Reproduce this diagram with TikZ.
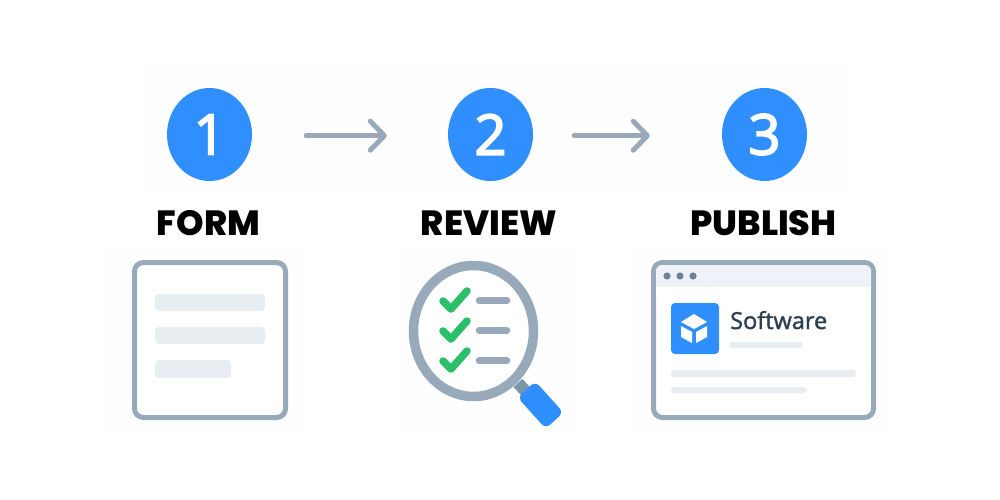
\documentclass[tikz,border=0pt]{standalone}
\usepackage{fontspec}
\setmainfont{Poppins}[BoldFont={Poppins ExtraBold}]
\newfontface\digitfont{Open Sans}[FakeBold=3]
\newfontface\labelfont{Open Sans}[FakeBold=1.5]
\usetikzlibrary{
  shapes.geometric,
  arrows.meta
}
\definecolor{stepblue}{HTML}{2F8FFF}
\definecolor{slate}{HTML}{98A9BA}
\definecolor{pale}{HTML}{E8EDF2}
\definecolor{haze}{HTML}{FEFEFE}
\definecolor{tick}{HTML}{2BBF6A}
\definecolor{titlefill}{HTML}{EFF3F8}
\definecolor{softink}{HTML}{2C3E50}
\definecolor{neck}{HTML}{7C95A9}
\definecolor{dot}{HTML}{6F8397}
\definecolor{rulegrey}{HTML}{9AA8BB}
\tikzset{
  stepnode/.style={ellipse,fill=stepblue,text=white,minimum width=85pt,minimum height=93pt,inner sep=0pt,font=\digitfont\fontsize{56}{56}\selectfont},
  titlenode/.style={font=\fontsize{35}{35}\selectfont\bfseries,text=black,inner sep=0pt},
  flow/.style={draw=slate,line width=5pt,line cap=round,-{Straight Barb[length=14pt,width=29pt,line width=5pt,round]}},
  panel/.style={draw=slate,line width=5pt,rounded corners=9pt},
  bar/.style={fill=pale,rounded corners=4pt},
  rulebar/.style={rulegrey,line width=6.5pt,line cap=round},
  checkmark/.style={draw=tick,line width=7.5pt,line cap=round,line join=round}
}
\begin{document}
\begin{tikzpicture}[x=1pt,y=-1pt]
\useasboundingbox (0,0) rectangle (1000,500);
\fill[white] (0,0) rectangle (1000,500);
\fill[haze] (140,65) rectangle (848,195);
\fill[haze] (107,248) rectangle (308,435);
\fill[haze] (398,248) rectangle (580,435);
\fill[haze] (634,248) rectangle (888,435);
% steps
\node[stepnode] (one) at (209.5,134.5) {1};
\node[stepnode] (two) at (490.5,134.5) {2};
\node[stepnode] (three) at (764.5,134.5) {3};
\draw[flow,shorten <=54pt,shorten >=61pt] ([yshift=-1.2pt]one.east) -- ([yshift=-1.2pt]two.west);
\draw[flow,shorten <=41pt,shorten >=72pt] ([yshift=-1.2pt]two.east) -- ([yshift=-1.2pt]three.west);
\node[titlenode] (form) at (208.5,223) {FORM};
\node[titlenode] (review) at (489,223) {REVIEW};
\node[titlenode] (publish) at (763.5,223) {PUBLISH};
% form
\draw[panel,fill=white] (134.5,262.5) rectangle (285.5,417.5);
\fill[bar] (155,294) rectangle (265,311);
\fill[bar] (155,327) rectangle (265,344);
\fill[bar] (155,360) rectangle (231,378);
% review
\draw[line width=12pt,draw=neck] (518,383) -- (530,396);
\node[fill=stepblue,minimum width=42pt,minimum height=24pt,rounded corners=6pt,rotate=-48,inner sep=0pt] (grip) at (540.5,405) {};
\draw[slate,line width=9.5pt,fill=white] (473.5,331) ellipse[x radius=60,y radius=65.5];
\foreach \y in {0,30,60}{
  \draw[checkmark] (443,301+\y) -- (451,309+\y) -- (467,291+\y);
  \draw[rulebar] (479,300.5+\y) -- (507,300.5+\y);
}
% publish
\draw[panel,fill=white] (653.5,262.5) rectangle (873.5,417.5);
\fill[titlefill,rounded corners=6pt] (656,295) -- (656,265) -- (871,265) -- (871,295) -- cycle;
\fill[white] (656,287) rectangle (871,300);
\foreach \x in {667,680,693}
  \fill[dot] (\x,276) circle[radius=3.6];
\fill[stepblue,rounded corners=4pt] (671,303) rectangle (719,354);
\fill[white] (694,314) -- (707,322) -- (694,329) -- (681,322) -- cycle;
\fill[white] (681,326) -- (692,332) -- (692,343) -- (681,337) -- cycle;
\fill[white] (696,332) -- (707,326) -- (707,337) -- (696,343) -- cycle;
\node[anchor=base west,inner sep=0pt,text=softink,font=\labelfont\fontsize{23.5}{23.5}\selectfont] (software) at (730,329) {Software};
\fill[bar,rounded corners=3pt] (729,342) rectangle (803,348);
\fill[bar,rounded corners=3pt] (671,370) rectangle (856,377);
\fill[bar,rounded corners=3pt] (671,387) rectangle (807,393);
\end{tikzpicture}
\end{document}
